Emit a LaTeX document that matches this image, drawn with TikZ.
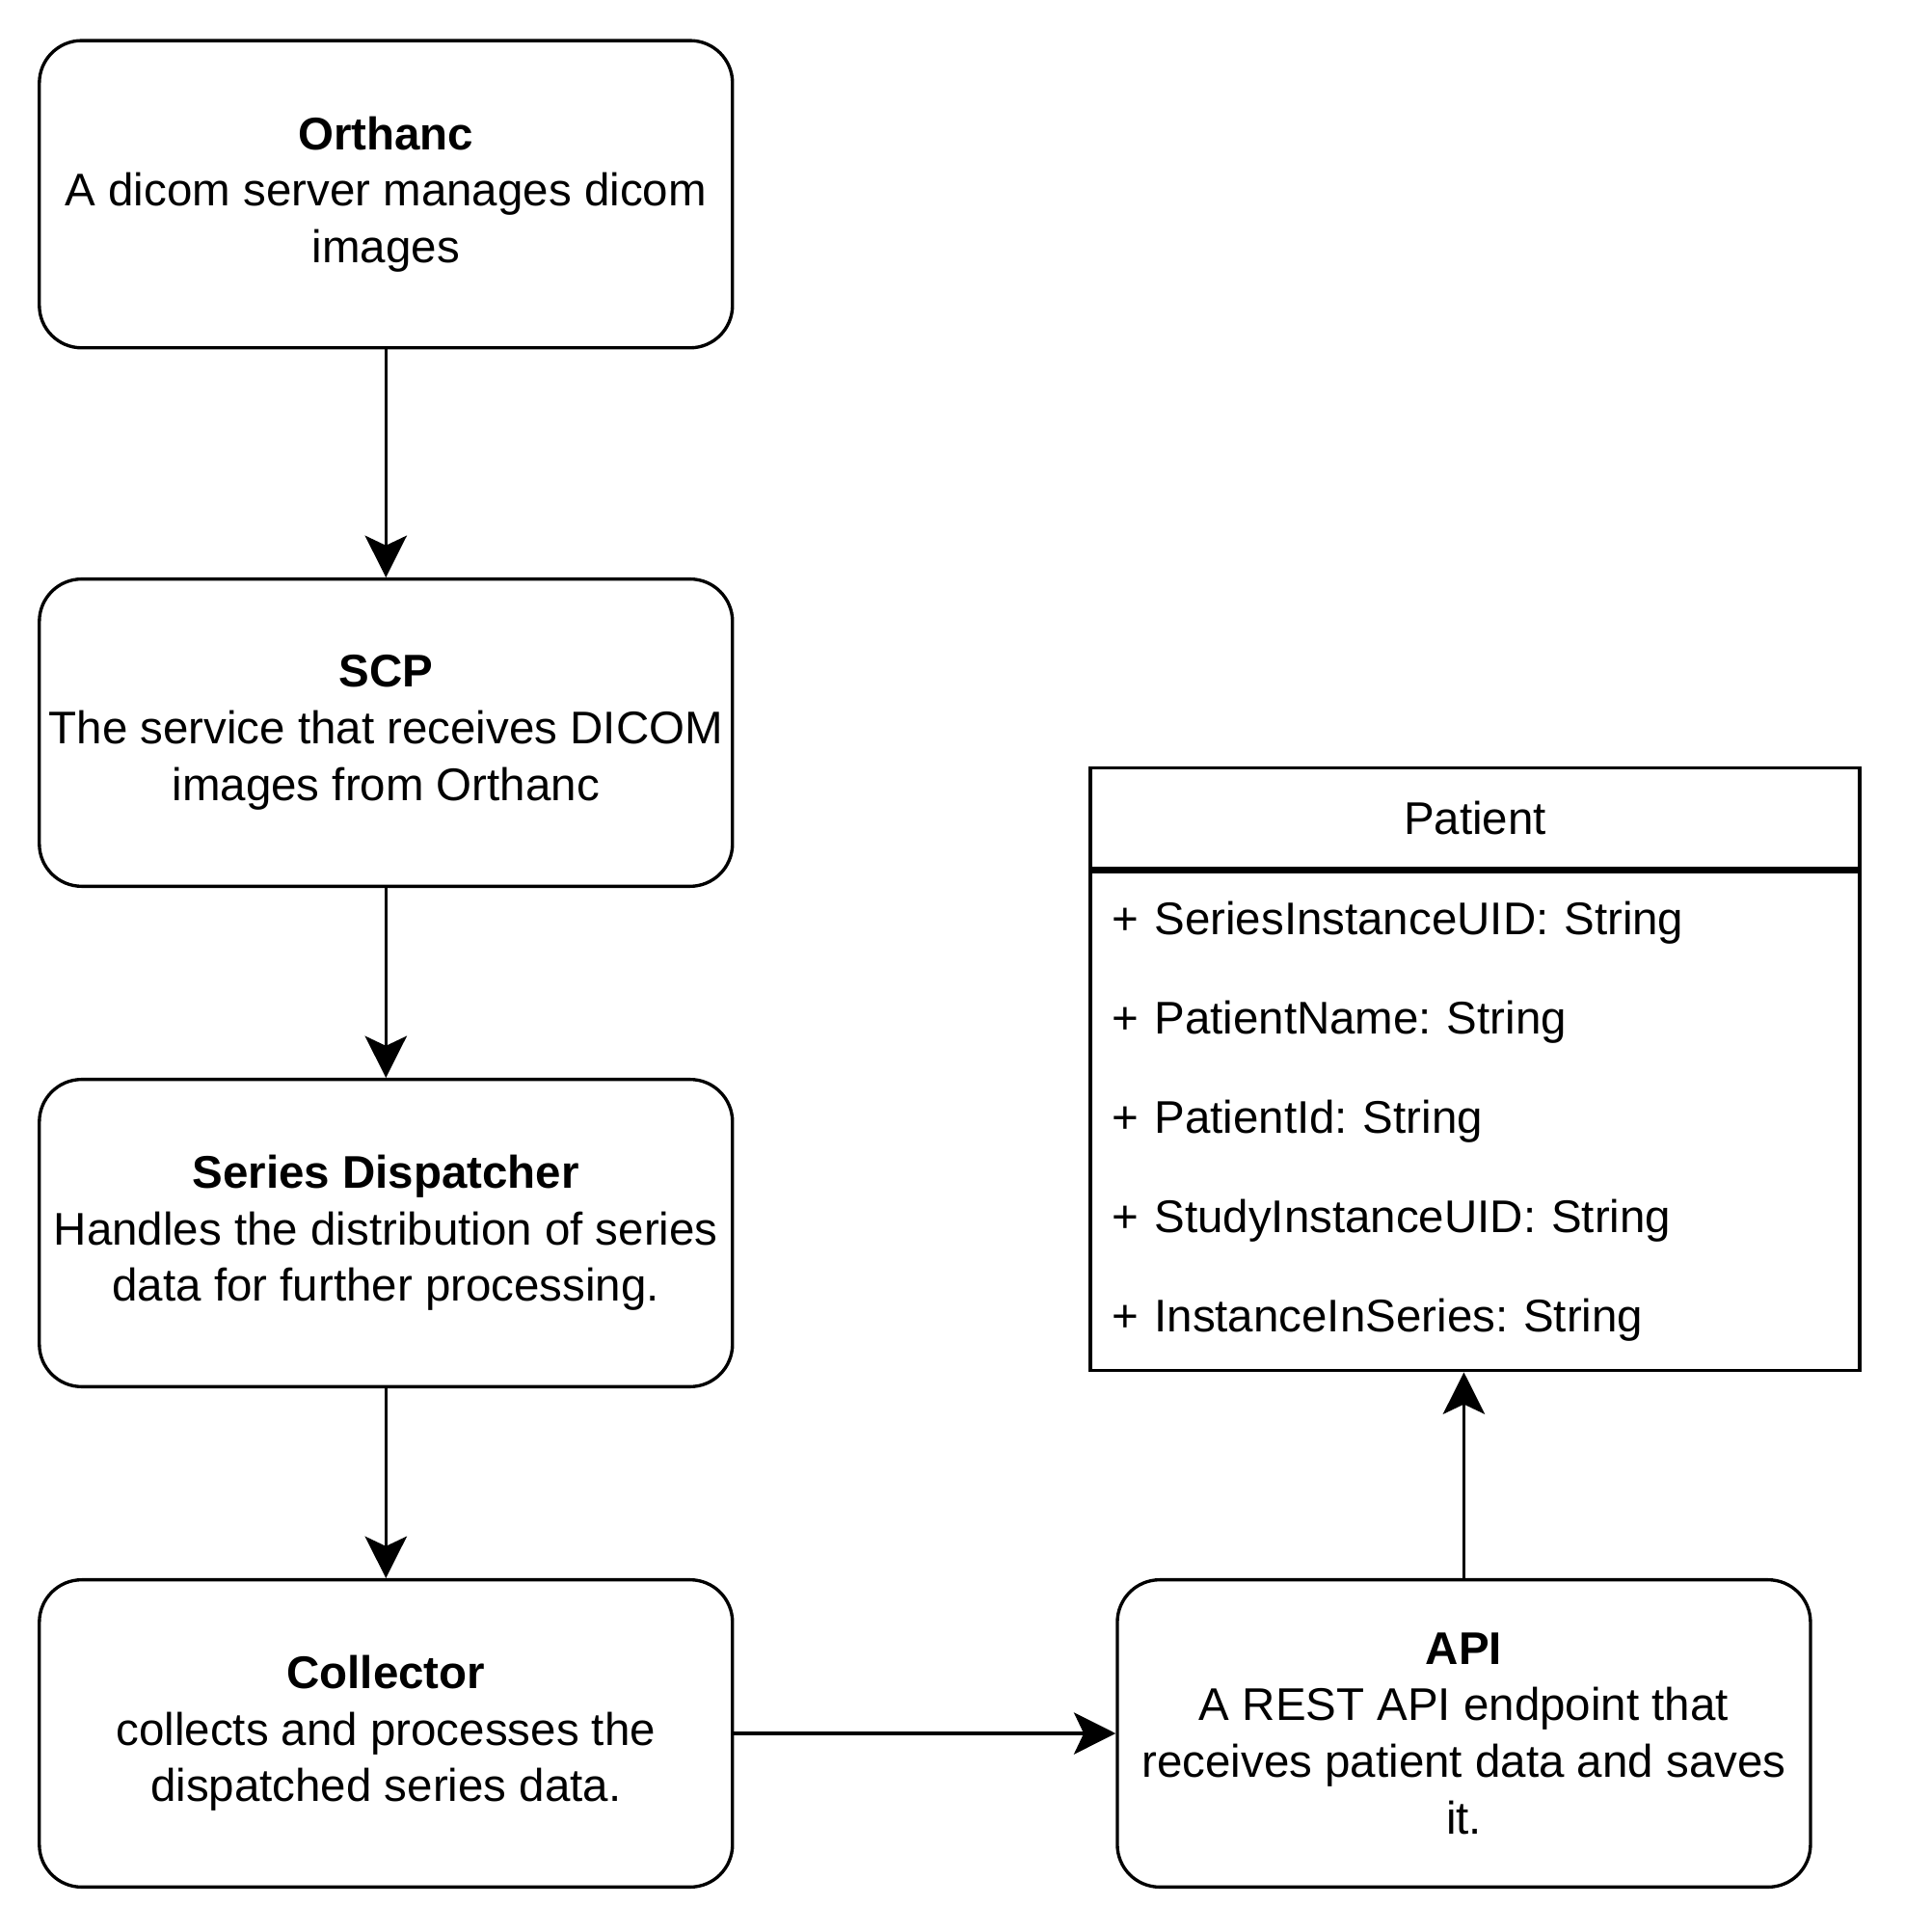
\documentclass[tikz,border=0pt]{standalone}
\usepackage{fontspec}
\setmainfont{Liberation Sans}
\usetikzlibrary{positioning,arrows.meta}

\begin{document}
\begin{tikzpicture}
[
    every node/.style={font=\fontsize{10.6pt}{13.1pt}\selectfont\frenchspacing},
    block/.style={draw, line width=0.75pt, rounded corners=0.345cm, minimum width=5.64cm, minimum height=2.5cm, align=center, inner sep=0pt},
    classbox/.style={draw, line width=0.75pt, minimum width=6.26cm, inner sep=0pt},
    flow/.style={line width=0.75pt, -{Stealth[length=0.34cm, width=0.34cm, inset=0.08cm]}},
]
\useasboundingbox (0,0) rectangle (15.50,-15.72);

% pipeline on the left
\node (orthanc) [block] at (3.14,-1.58)
{\textbf{Orthanc}\\A dicom server manages dicom\\images};
\node (scp) [block, below=1.855cm of orthanc]
{\textbf{SCP}\\The service that receives DICOM\\images from Orthanc};
\node (dispatcher) [block, below=1.545cm of scp]
{\textbf{Series Dispatcher}\\Handles the distribution of series\\data for further processing.};
\node (collector) [block, below=1.545cm of dispatcher]
{\textbf{Collector}\\collects and processes the\\dispatched series data.};
\node (api) [block, right=3.105cm of collector]
{\textbf{API}\\A REST API endpoint that\\receives patient data and saves\\it.};

% class box
\node (attrs) [classbox, minimum height=4.06cm, text width=5.90cm, inner xsep=0.18cm, align=left,
    font=\fontsize{10.6pt}{23pt}\selectfont\frenchspacing, above=1.675cm of api, xshift=0.09cm]
{+ SeriesInstanceUID: String\\+ PatientName: String\\+ PatientId: String\\+ StudyInstanceUID: String\\+ InstanceInSeries: String};
\node (patient) [classbox, minimum height=0.82cm, above=0pt of attrs] {Patient};

\draw [flow] (orthanc) -- (scp);
\draw [flow] (scp) -- (dispatcher);
\draw [flow] (dispatcher) -- (collector);
\draw [flow] (collector) -- (api);
\draw [flow] (api.north) -- (api.north |- attrs.south);
\end{tikzpicture}
\end{document}
